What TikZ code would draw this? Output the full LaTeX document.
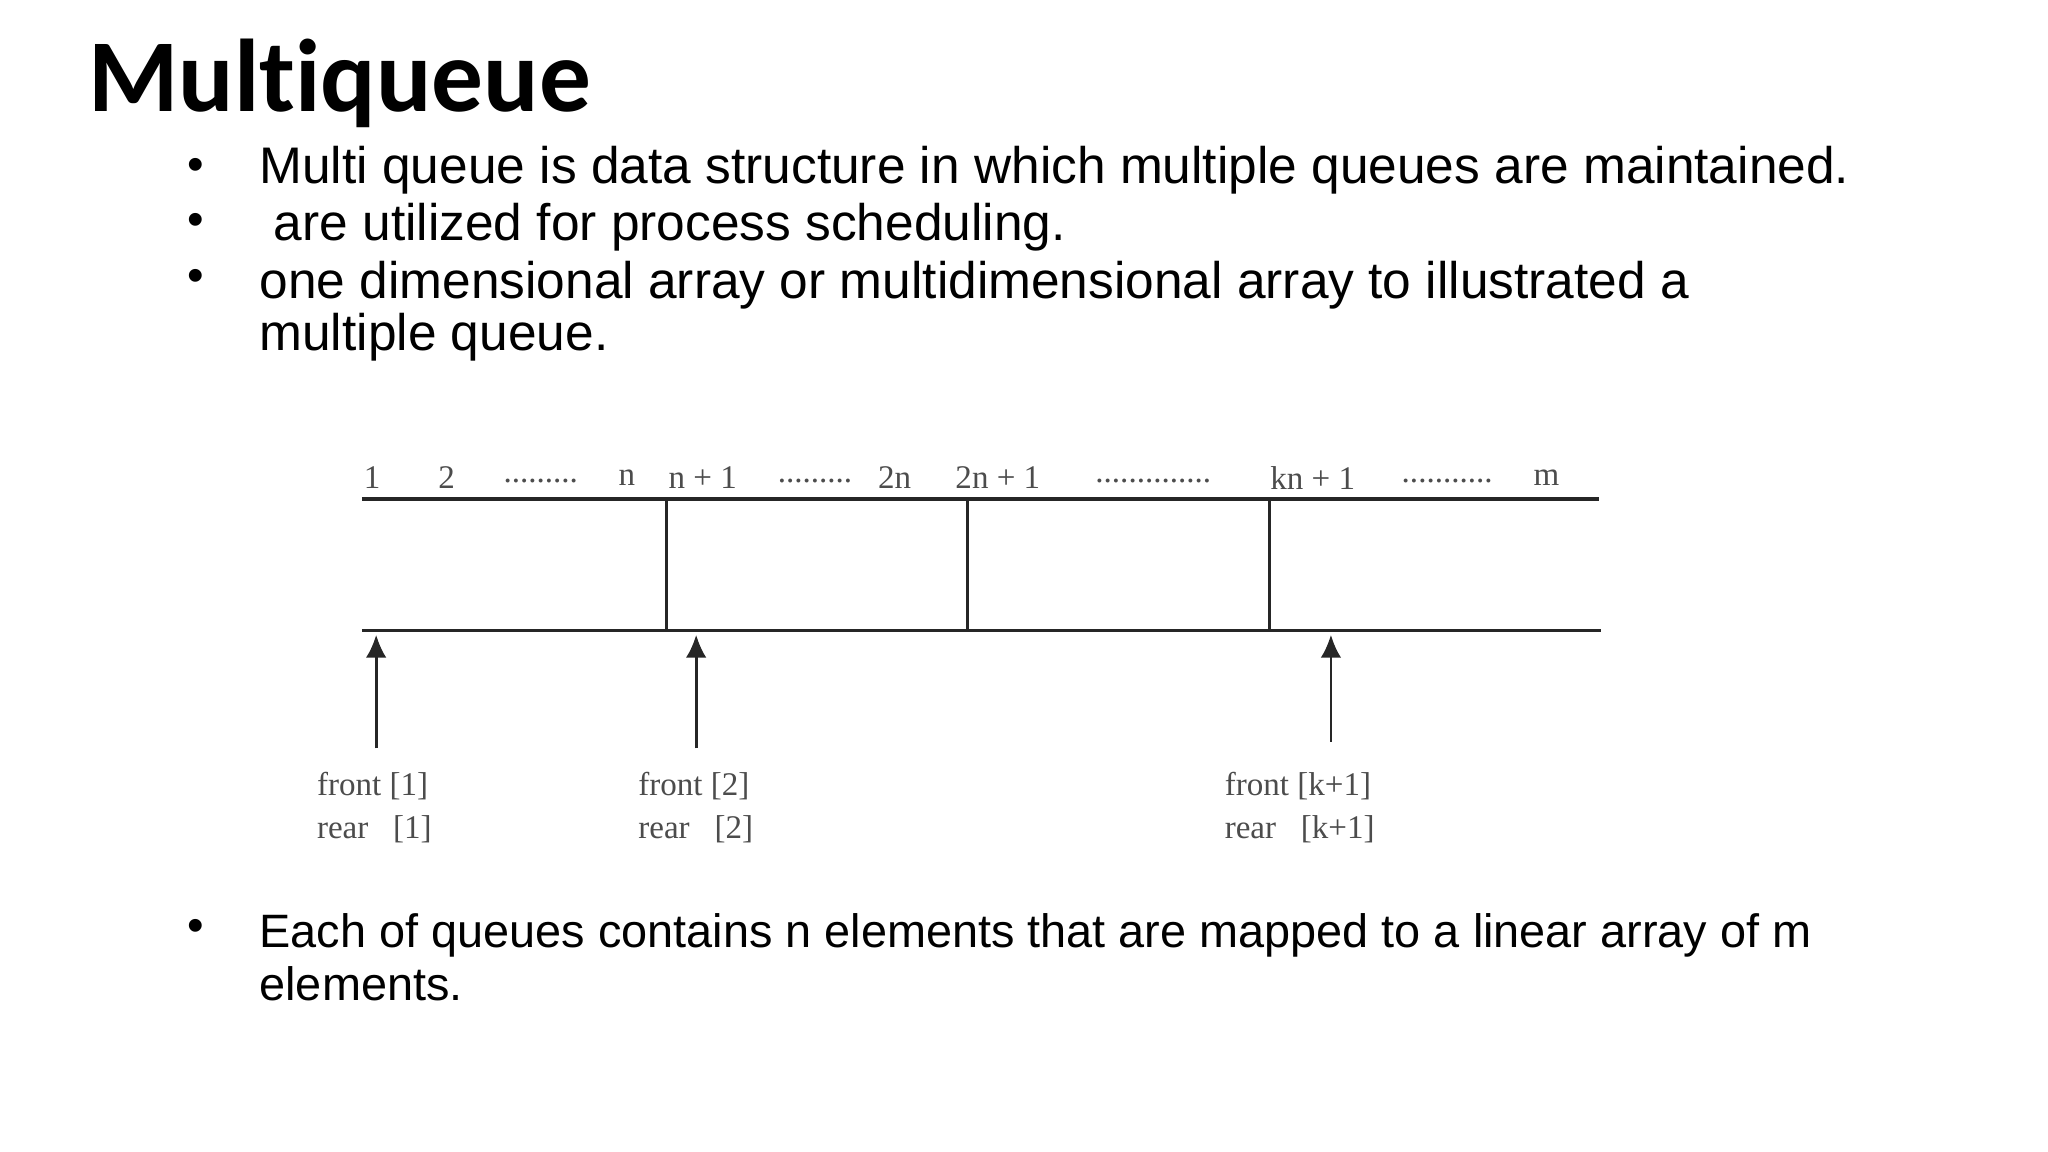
\documentclass[tikz,border=0pt]{standalone}
\usepackage{fontspec}
\usetikzlibrary{arrows.meta}
\setmainfont{Liberation Sans}
\newfontfamily\titlefont[Ligatures={NoCommon,NoRequired}]{Carlito}
\newfontfamily\serfont{Liberation Serif}
\begin{document}
\begin{tikzpicture}[x=0.01cm,y=-0.01cm,
  bul/.style={anchor=west,font=\fontsize{11.2}{12}\selectfont,inner sep=0},
  bulb/.style={anchor=west,font=\fontsize{10.2}{11}\selectfont,inner sep=0},
  dot/.style={anchor=center,font=\fontsize{10.3}{11}\selectfont,inner sep=0},
  lab/.style={font=\serfont\fontsize{7.2}{8}\selectfont,text=black!70,inner sep=0},
  ln/.style={line width=0.7pt,black!85},
  arr/.style={line width=0.6pt,black!85,-{Latex[length=5pt,width=4.5pt]}}]
\useasboundingbox (0,0) rectangle (1568,882);
\node[anchor=west,inner sep=0,font=\titlefont\bfseries\fontsize{22.5}{24}\selectfont] (title) at (67,64) {Multiqueue};
\node[dot] (b1) at (150,130) {•};
\node[bul] (t1) at (198,130) {Multi queue is data structure in which multiple queues are maintained.};
\node[dot] (b2) at (150,172) {•};
\node[bul] (t2) at (198,174) {\ are utilized for process scheduling.};
\node[dot] (b3) at (150,215) {•};
\node[bul] (t3) at (198,218) {one dimensional array or multidimensional array to illustrated a};
\node[bul] (t3b) at (198,258) {multiple queue.};
\node[dot] (b4) at (150,712) {•};
\node[bulb] (t4) at (198,716) {Each of queues contains n elements that are mapped to a linear array of m};
\node[bulb] (t4b) at (198,753) {elements.};
% array
\coordinate (tl) at (277,382); \coordinate (tr) at (1224,382);
\coordinate (bl) at (277,483); \coordinate (br) at (1226,483);
\draw[ln] (tl) -- (tr);
\draw[ln] (bl) -- (br);
\foreach \x/\n in {510/v1,741/v2,972/v3}{
  \coordinate (\n t) at (\x,382); \coordinate (\n b) at (\x,483);
  \draw[ln] (\n t) -- (\n b);}
% index labels
\node[lab] (i1) at (285,366) {1};
\node[lab] (i2) at (342,366) {2};
\node[lab] (d1) at (414,368) {.........};
\node[lab] (in) at (480,366) {n};
\node[lab] (in1) at (538,366) {n + 1};
\node[lab] (d2) at (624,368) {.........};
\node[lab] (i2n) at (685,366) {2n};
\node[lab] (i2n1) at (764,366) {2n + 1};
\node[lab] (d3) at (883,368) {..............};
\node[lab] (ikn) at (1005,366) {kn + 1};
\node[lab] (d4) at (1108,368) {...........};
\node[lab] (im) at (1184,366) {m};
% arrows
\coordinate (a1s) at (288,573); \coordinate (a1e) at (288,486);
\coordinate (a2s) at (533,573); \coordinate (a2e) at (533,486);
\coordinate (a3s) at (1019,568); \coordinate (a3e) at (1019,486);
\draw[arr] (a1s) -- (a1e);
\draw[arr] (a2s) -- (a2e);
\draw[arr] (a3s) -- (a3e);
\node[lab,anchor=west] (f1) at (242,602) {front [1]};
\node[lab,anchor=west] (r1) at (242,635) {rear \ \ [1]};
\node[lab,anchor=west] (f2) at (488,602) {front [2]};
\node[lab,anchor=west] (r2) at (488,635) {rear \ \ [2]};
\node[lab,anchor=west] (f3) at (937,602) {front [k+1]};
\node[lab,anchor=west] (r3) at (937,635) {rear \ \ [k+1]};
\end{tikzpicture}
\end{document}
